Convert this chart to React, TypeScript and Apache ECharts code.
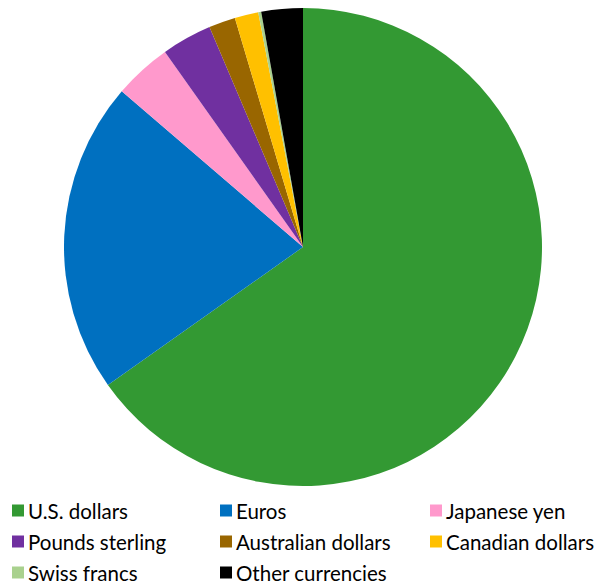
import React, { useEffect, useRef } from "react";
import * as echarts from "echarts";

const categories = [
  "U.S. dollars",
  "Euros",
  "Japanese yen",
  "Pounds sterling",
  "Australian dollars",
  "Canadian dollars",
  "Swiss francs",
  "Other currencies",
];
const shares = [65.2, 21.1, 3.9, 3.4, 1.8, 1.6, 0.2, 2.8];
const colors = ["#339933", "#0070C0", "#FF99CC", "#7030A0", "#996600", "#FFC000", "#A9D18E", "#000000"];

const legendColumns = [
  [0, 3, 6],
  [1, 4, 7],
  [2, 5],
];
const columnLeft = [12, 220, 430];

export default function App() {
  const ref = useRef<HTMLDivElement>(null);
  useEffect(() => {
    if (!ref.current) return;
    const chart = echarts.init(ref.current, null, { renderer: "svg" });
    chart.setOption({
      animation: false,
      color: colors,
      legend: legendColumns.map((col, i) => ({
        orient: "vertical",
        left: columnLeft[i],
        top: 500,
        height: 200,
        itemWidth: 12,
        itemHeight: 12,
        itemGap: 10,
        icon: "rect",
        selectedMode: false,
        textStyle: {
          fontFamily: "Lato",
          fontSize: 20.5,
          color: "#000",
          lineHeight: 20,
          padding: [0, 0, 0, -1],
        },
        padding: 0,
        data: col.map((k) => categories[k]),
      })),
      series: [
        {
          type: "pie",
          center: [303, 247],
          radius: 239,
          startAngle: 90,
          clockwise: true,
          label: { show: false },
          labelLine: { show: false },
          silent: true,
          itemStyle: { borderWidth: 0 },
          data: categories.map((name, i) => ({ name, value: shares[i] })),
        },
      ],
    });
    return () => chart.dispose();
  }, []);
  return <div ref={ref} style={{ width: 601, height: 585, position: "absolute", left: 0, top: 0 }} />;
}
